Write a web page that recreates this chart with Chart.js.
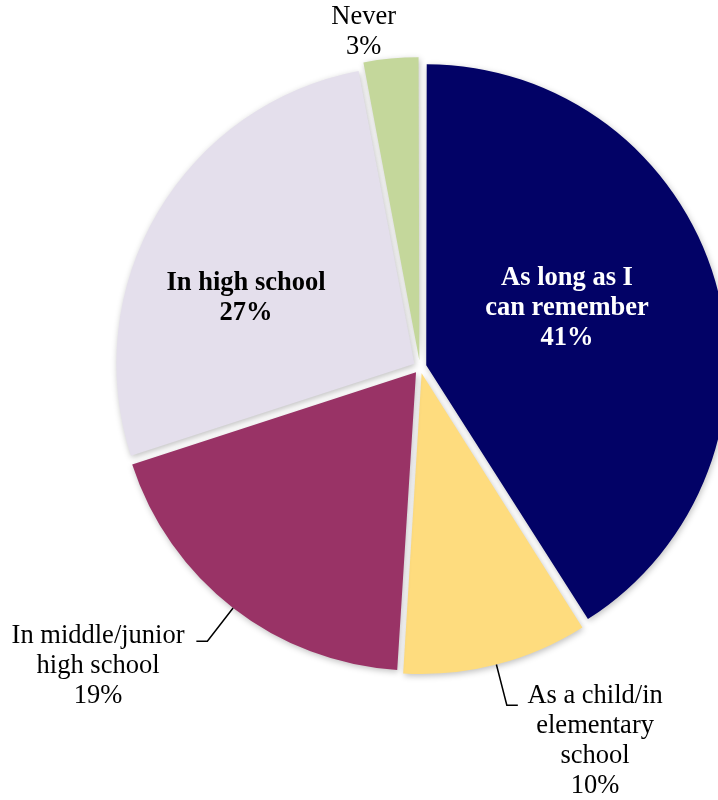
<!DOCTYPE html>
<html>
<head>
<meta charset="utf-8">
<title>When did you first think about college?</title>
<script src="https://cdn.jsdelivr.net/npm/chart.js@4.4.1/dist/chart.umd.min.js"></script>
<style>
  html, body { margin: 0; padding: 0; background: #fff; overflow: hidden; }
  #wrap { position: absolute; left: 0; top: 0; width: 840px; height: 800px; }
</style>
</head>
<body>
<div id="wrap"><canvas id="chart"></canvas></div>
<script>
// slices, clockwise from 12 o'clock
const categories = [
    "As long as I can remember",
    "As a child/in elementary school",
    "In middle/junior high school",
    "In high school",
    "Never"
];
const shares = [41, 10, 19, 27, 3];
const sliceColors = ["#020266", "#FEDC7E", "#993366", "#E4DFEC", "#C4D79B"];

// how each category name is broken over lines in its label
const labelLines = [
    ["As long as I", "can remember"],
    ["As a child/in", "elementary", "school"],
    ["In middle/junior", "high school"],
    ["In high school"],
    ["Never"]
];

// where each label sits: distance as a fraction of the radius, turn (deg) away from the slice middle
const placements = [
    { dist: 0.534, turn: -6.3, bold: true, color: "#ffffff" },
    { dist: 1.38, turn: -10.8, leader: 1 },
    { dist: 1.47, turn: 9.5, leader: -1 },
    { dist: 0.63, turn: -8.5, bold: true },
    { dist: 1.146, turn: -4.1 }
];

const EXPLODE = 26;   // arc offset, Chart.js moves each slice by a quarter of it
const FONT = "'Liberation Serif', 'Times New Roman', serif";
const LINE_H = 30;

/**
 * Soft shadow under the slices.
 */
const shadowPlugin = {
    id: "sliceShadow",
    beforeDatasetsDraw(chart) {
        const ctx = chart.ctx;
        ctx.save();
        ctx.shadowColor = "rgba(0,0,0,0.25)";
        ctx.shadowBlur = 6;
        ctx.shadowOffsetX = 1;
        ctx.shadowOffsetY = 2;
    },
    afterDatasetsDraw(chart) {
        chart.ctx.restore();
    }
};

/**
 * Category + percent labels, with leader lines for the ones outside.
 */
const labelPlugin = {
    id: "sliceLabels",
    afterDraw(chart) {
        const ctx = chart.ctx;
        const arcs = chart.getDatasetMeta(0).data;

        ctx.save();
        for (let i = 0; i < arcs.length; i++) {
            const arc = arcs[i];
            const p = placements[i];
            const r = arc.outerRadius;
            const mid = (arc.startAngle + arc.endAngle) / 2;
            const a = mid + p.turn * Math.PI / 180;
            const cx = arc.x + Math.cos(a) * r * p.dist;
            const cy = arc.y + Math.sin(a) * r * p.dist + 2;

            const lines = labelLines[i].concat([shares[i] + "%"]);

            ctx.font = (p.bold ? "bold " : "") + "26.5px " + FONT;
            ctx.fillStyle = p.color || "#000000";
            ctx.textAlign = "center";
            ctx.textBaseline = "middle";
            for (let j = 0; j < lines.length; j++) {
                const y = cy + (j - (lines.length - 1) / 2) * LINE_H;
                ctx.fillText(lines[j], cx, y);
            }

            if (p.leader) {
                // outer edge of the moved slice
                const shift = EXPLODE / 4;
                const edge = r + shift + shift * (1 - Math.sin(Math.min(Math.PI, arc.circumference)));
                const x0 = arc.x + Math.cos(mid) * edge;
                const y0 = arc.y + Math.sin(mid) * edge;
                const x1 = arc.x + Math.cos(mid) * (edge + 42);
                const y1 = arc.y + Math.sin(mid) * (edge + 42);
                ctx.beginPath();
                ctx.moveTo(x0, y0);
                ctx.lineTo(x1, y1);
                ctx.lineTo(x1 + p.leader * 11, y1);
                ctx.strokeStyle = "#000000";
                ctx.lineWidth = 1.5;
                ctx.stroke();
            }
        }
        ctx.restore();
    }
};

function drawChart()
{
    new Chart(document.getElementById("chart"), {
        type: "pie",
        data: {
            labels: categories,
            datasets: [{
                data: shares,
                backgroundColor: sliceColors,
                borderWidth: 0,
                offset: EXPLODE,
                hoverOffset: 0
            }]
        },
        options: {
            responsive: true,
            maintainAspectRatio: false,
            animation: false,
            layout: {
                padding: { left: 109, right: 109, top: 56, bottom: 122 }
            },
            plugins: {
                legend: { display: false },
                tooltip: { enabled: false }
            }
        },
        plugins: [shadowPlugin, labelPlugin]
    });
}

drawChart();
</script>
</body>
</html>
